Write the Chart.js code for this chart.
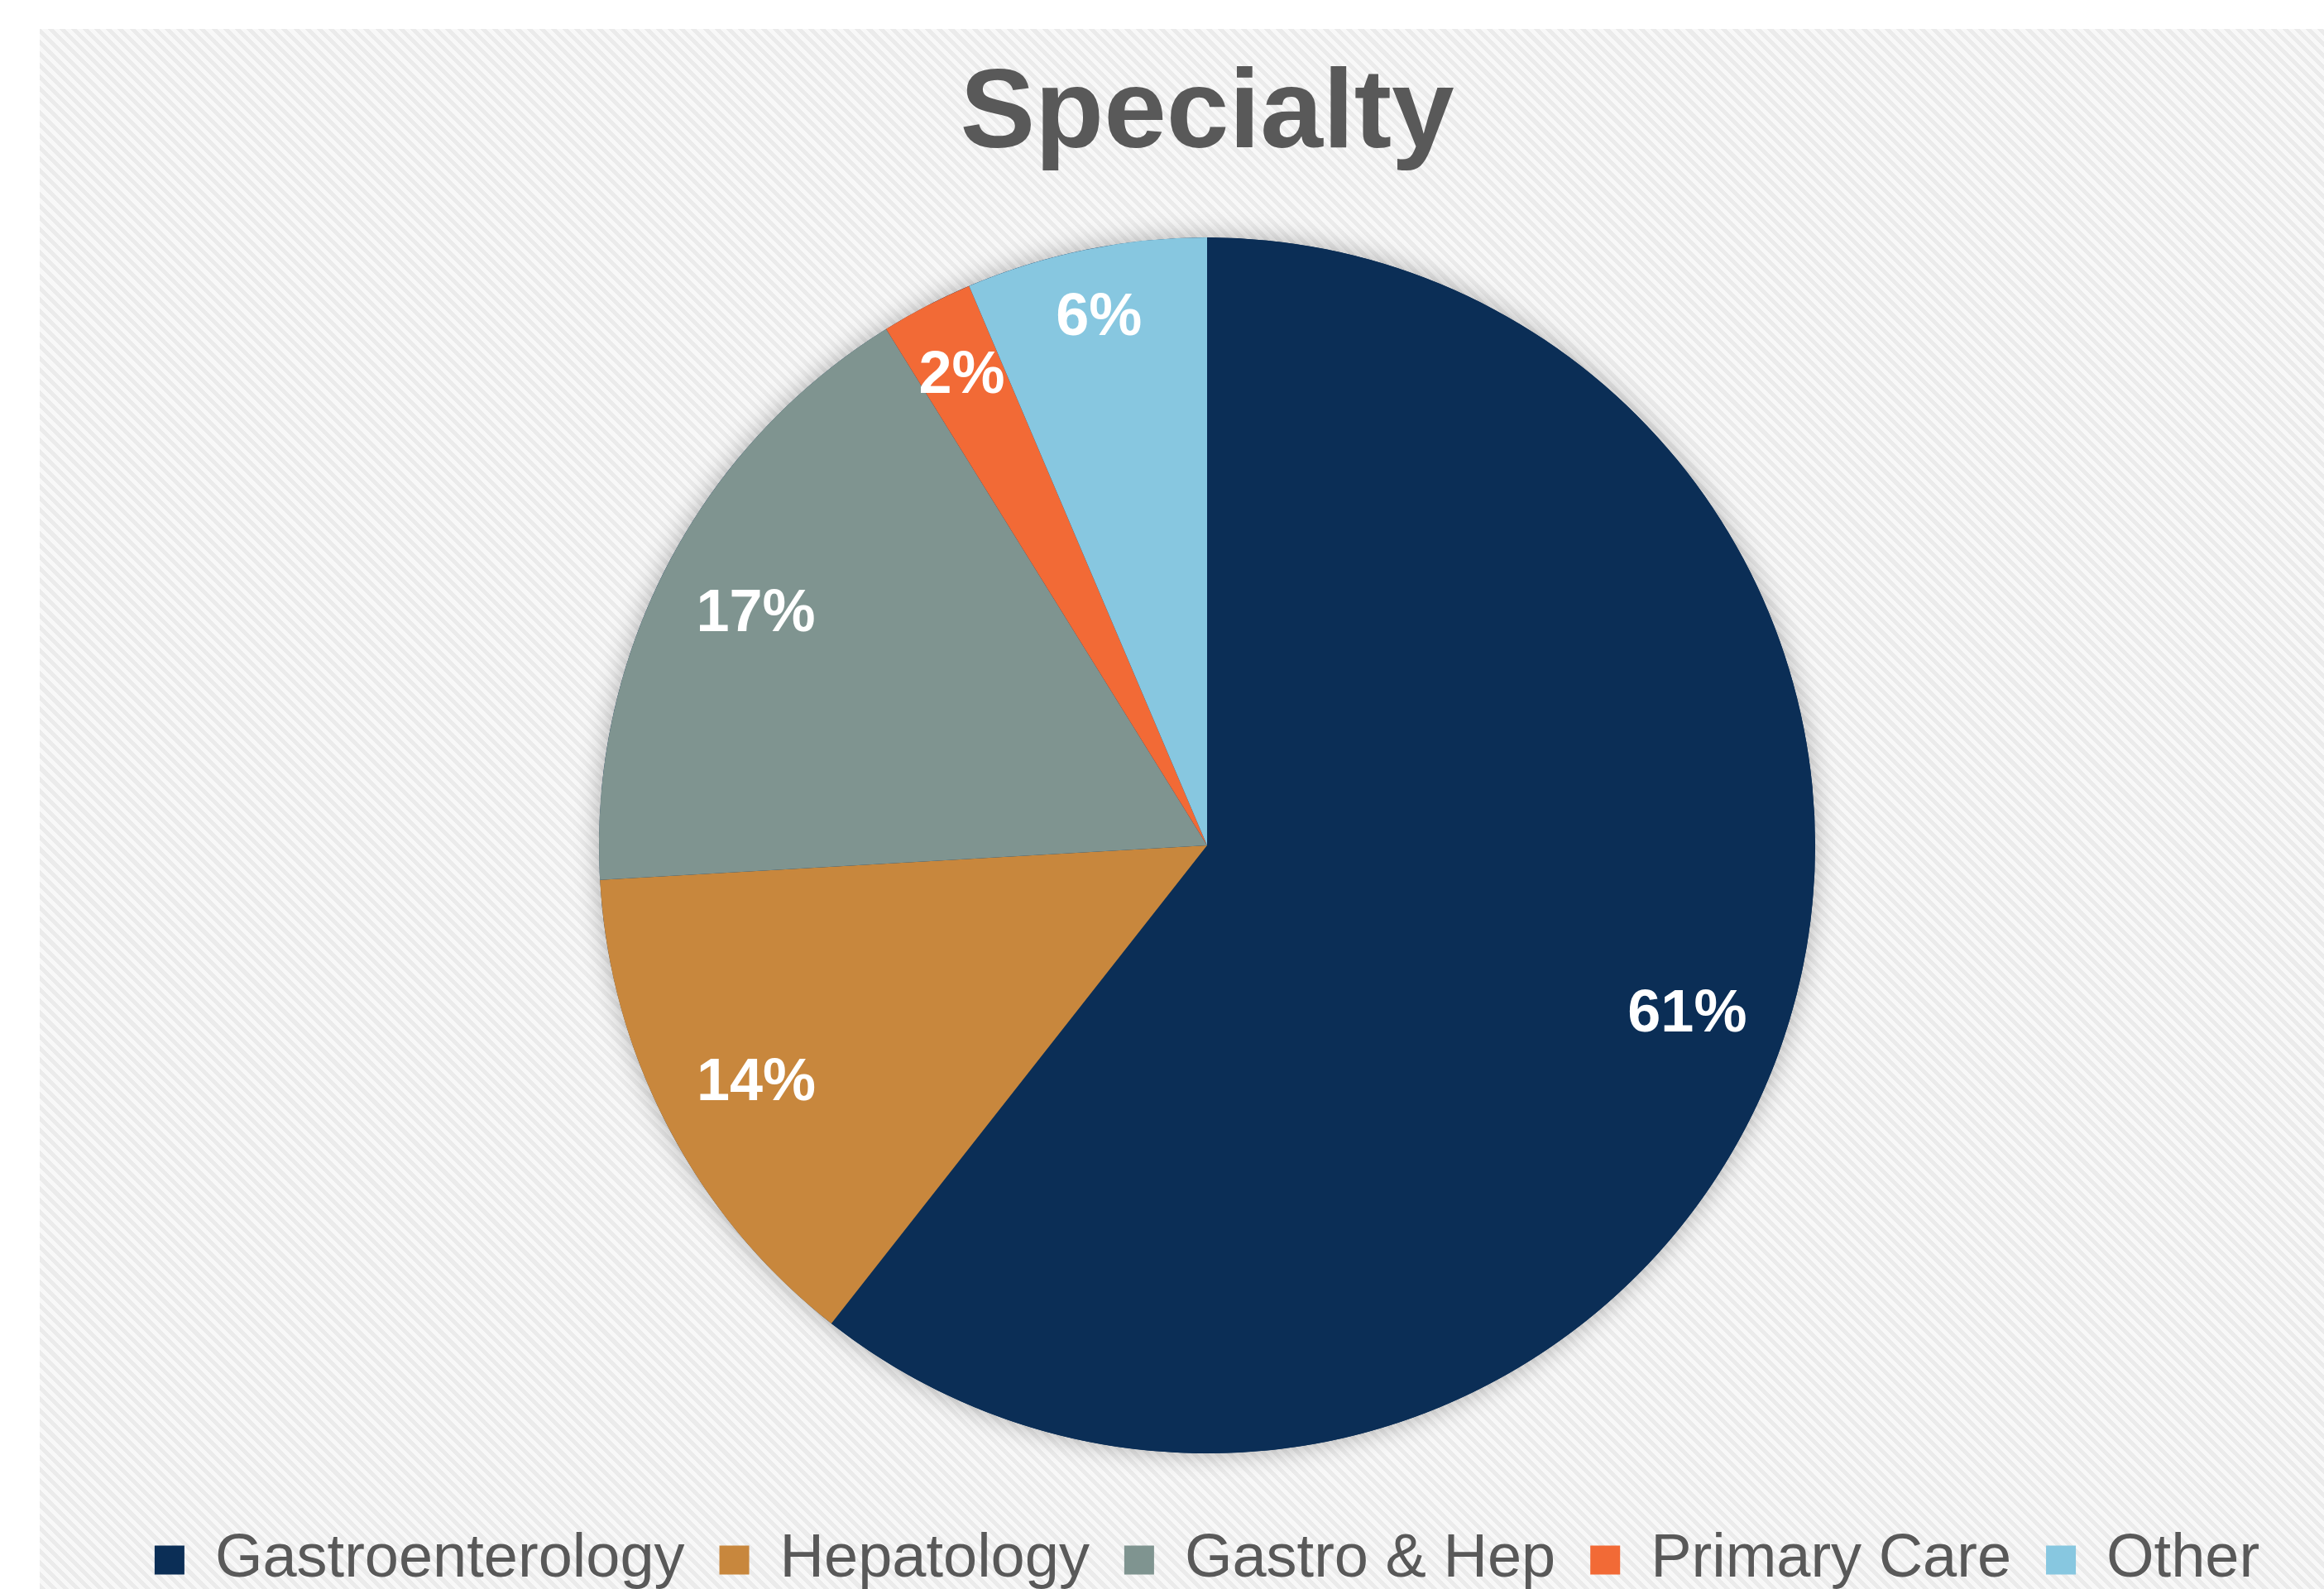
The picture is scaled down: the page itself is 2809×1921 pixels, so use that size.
<!DOCTYPE html>
<html>
<head>
<meta charset="utf-8">
<title>Specialty</title>
<script src="https://cdn.jsdelivr.net/npm/chart.js@4.4.1/dist/chart.umd.min.js"></script>
<style>
  html, body {
    margin: 0;
    padding: 0;
    width: 2809px;
    height: 1921px;
    overflow: hidden;
    background: #ffffff;
  }
  #panel {
    position: absolute;
    left: 48px;
    top: 35px;
    right: 0;
    bottom: 0;
    background-color: #f1f1f1;
    background-image: repeating-linear-gradient(45deg, #ebebeb 0px, #ebebeb 5px, #f8f8f8 5px, #f8f8f8 10px);
  }
  #wrap {
    position: absolute;
    left: 48px;
    top: 35px;
    width: 2822px;
    height: 1898px;
  }
</style>
</head>
<body>
<div id="panel"></div>
<div id="wrap"><canvas id="specialtyChart"></canvas></div>
<script>
// Share of respondents by specialty (percent)
var categories = ['Gastroenterology', 'Hepatology', 'Gastro & Hep', 'Primary Care', 'Other'];
var shares = [60.6, 13.5, 17.05, 2.45, 6.4];
var sliceColors = ['#0b2e56', '#c8873d', '#7f9490', '#f26a36', '#87c7e0'];

var FONT = '"Liberation Sans", Arial, sans-serif';
Chart.defaults.font.family = FONT;

// soft halo behind the pie
var pieShadow = {
    id: 'pieShadow',
    beforeDatasetsDraw: function(chart) {
        var arc = chart.getDatasetMeta(0).data[0];
        if (!arc) return;
        var ctx = chart.ctx;
        ctx.save();
        ctx.shadowColor = 'rgba(0, 0, 0, 0.3)';
        ctx.shadowBlur = 30;
        ctx.fillStyle = sliceColors[0];
        ctx.beginPath();
        ctx.arc(arc.x, arc.y, arc.outerRadius, 0, Math.PI * 2);
        ctx.fill();
        ctx.restore();
    }
};

// percent labels placed inside the outer edge of each slice
var sliceLabels = {
    id: 'sliceLabels',
    afterDatasetsDraw: function(chart) {
        var ctx = chart.ctx;
        var values = chart.data.datasets[0].data;
        var total = values.reduce(function(a, b) { return a + b; }, 0);
        ctx.save();
        ctx.font = 'bold 72px ' + FONT;
        ctx.fillStyle = '#ffffff';
        ctx.textAlign = 'center';
        ctx.textBaseline = 'middle';
        chart.getDatasetMeta(0).data.forEach(function(arc, i) {
            var text = Math.round(values[i] / total * 100) + '%';
            var mid = (arc.startAngle + arc.endAngle) / 2;
            var dx = Math.cos(mid), dy = Math.sin(mid);
            var halfW = ctx.measureText(text).width / 2;
            var halfH = 27;
            var r = arc.outerRadius - 44 - (Math.abs(dx) * halfW + Math.abs(dy) * halfH);
            ctx.fillText(text, arc.x + dx * r, arc.y + dy * r + 4);
        });
        ctx.restore();
    }
};

var ctx = document.getElementById('specialtyChart').getContext('2d');

new Chart(ctx, {
    type: 'pie',
    data: {
        labels: categories,
        datasets: [{
            data: shares,
            backgroundColor: sliceColors,
            borderWidth: 0,
            hoverOffset: 0,
            radius: 735
        }]
    },
    options: {
        responsive: true,
        maintainAspectRatio: false,
        animation: false,
        layout: { padding: 0 },
        plugins: {
            title: {
                display: true,
                text: 'Specialty',
                color: '#595959',
                font: { size: 136, weight: 'bold', lineHeight: 1.2 },
                padding: { top: 24, bottom: 15 }
            },
            legend: {
                display: true,
                position: 'bottom',
                labels: {
                    color: '#595959',
                    font: { size: 74 },
                    boxWidth: 36,
                    boxHeight: 35,
                    padding: 42
                }
            },
            tooltip: { enabled: false }
        }
    },
    plugins: [pieShadow, sliceLabels]
});
</script>
</body>
</html>
